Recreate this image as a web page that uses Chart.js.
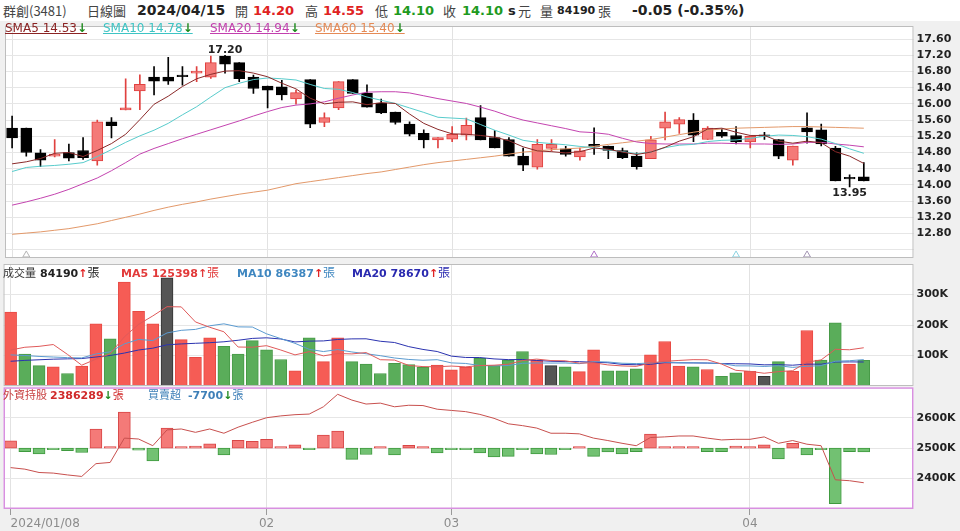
<!DOCTYPE html>
<html>
<head>
<meta charset="utf-8">
<script src="https://cdn.jsdelivr.net/npm/chart.js@4.4.1/dist/chart.umd.min.js"></script>
<style>
  body { margin: 0; width: 960px; height: 531px; overflow: hidden; position: relative; background: #f0f0f0; font-family: 'DejaVu Sans', Verdana, sans-serif; }
  #head { position: absolute; left: 0; top: 0; width: 960px; height: 21px; background: #fff; }
  #head span, .lg span { position: absolute; white-space: nowrap; }
  .cjk { font-family: 'Noto Sans CJK TC', sans-serif; }
  .b { font-weight: bold; }
  canvas { position: absolute; left: 0; }
  .lg { position: absolute; left: 0; width: 900px; height: 14px; font-size: 11px; line-height: 14px; }
  .sma { font-size: 12px; text-decoration: underline; }
</style>
</head>
<body>
<div id="head" style="font-size:13px;line-height:21px;color:#444">
  <span class="cjk" style="left:3px">群創(3481)</span>
  <span class="cjk" style="left:87px">日線圖</span>
  <span class="b" style="left:137px;color:#222;font-size:14px">2024/04/15</span>
  <span class="cjk" style="left:235px">開</span>
  <span class="b" style="left:253px;color:#e02222">14.20</span>
  <span class="cjk" style="left:305px">高</span>
  <span class="b" style="left:323px;color:#e02222">14.55</span>
  <span class="cjk" style="left:375px">低</span>
  <span class="b" style="left:393px;color:#1e9a1e">14.10</span>
  <span class="cjk" style="left:443px">收</span>
  <span class="b" style="left:462px;color:#1e9a1e">14.10</span>
  <span class="b" style="left:508px;color:#222">s</span>
  <span class="cjk" style="left:518px">元</span>
  <span class="cjk" style="left:540px">量</span>
  <span class="b" style="left:557px;color:#222;font-size:11px">84190</span>
  <span class="cjk" style="left:598px">張</span>
  <span class="b" style="left:632px;color:#222;font-size:14px">-0.05 (-0.35%)</span>
</div>

<canvas id="price" width="960" height="242" style="top:21px"></canvas>
<canvas id="vol" width="960" height="123" style="top:263px"></canvas>
<canvas id="fore" width="960" height="145" style="top:386px"></canvas>

<div class="lg" style="top:21px">
  <span class="sma" style="left:5px;color:#8b2323">SMA5 14.53<b style="color:#1e8a1e">↓</b></span>
  <span class="sma" style="left:103px;color:#3ec4c4">SMA10 14.78<b style="color:#1e8a1e">↓</b></span>
  <span class="sma" style="left:210px;color:#c23fae">SMA20 14.94<b style="color:#1e8a1e">↓</b></span>
  <span class="sma" style="left:315px;color:#e58a55">SMA60 15.40<b style="color:#1e8a1e">↓</b></span>
</div>
<div class="lg" style="top:265px">
  <span class="cjk" style="left:3px;color:#333">成交量</span>
  <span class="b" style="left:40px;color:#222">84190<span style="position:static;color:#e02222">↑</span><span class="cjk" style="position:static;font-weight:normal;font-size:12px">張</span></span>
  <span class="b" style="left:121px;color:#e23a3a">MA5 125398<span style="position:static">↑</span><span class="cjk" style="position:static;font-weight:normal;font-size:12px">張</span></span>
  <span class="b" style="left:237px;color:#3f87c0">MA10 86387<span style="position:static;color:#e02222">↑</span><span class="cjk" style="position:static;font-weight:normal;font-size:12px">張</span></span>
  <span class="b" style="left:352px;color:#2a2ab0">MA20 78670<span style="position:static;color:#e02222">↑</span><span class="cjk" style="position:static;font-weight:normal;font-size:12px">張</span></span>
</div>
<div class="lg" style="top:387px">
  <span class="cjk" style="left:3px;color:#c84040">外資持股</span>
  <span class="b" style="left:50px;color:#d02a2a">2386289<span style="position:static;color:#1e8a1e">↓</span><span class="cjk" style="position:static;font-weight:normal">張</span></span>
  <span class="cjk" style="left:148px;color:#3f80b8">買賣超</span>
  <span class="b" style="left:188px;color:#3f80b8">-7700<span style="position:static;color:#1e8a1e">↓</span><span class="cjk" style="position:static;font-weight:normal">張</span></span>
</div>

<script>
// 交易日 2024/01/08 ~ 2024/04/15
const dates = [
  '01/08','01/09','01/10','01/11','01/12','01/15','01/16','01/17','01/18','01/19',
  '01/22','01/23','01/24','01/25','01/26','01/29','01/30','01/31','02/01','02/02',
  '02/05','02/15','02/16','02/19','02/20','02/21','02/22','02/23','02/26','02/27',
  '02/29','03/01','03/04','03/05','03/06','03/07','03/08','03/11','03/12','03/13',
  '03/14','03/15','03/18','03/19','03/20','03/21','03/22','03/25','03/26','03/27',
  '03/28','03/29','04/01','04/02','04/03','04/08','04/09','04/10','04/11','04/12',
  '04/15'
];

// K線 (讀圖估計)
const open = [
  15.40,15.40,14.79,14.71,14.80,14.85,14.59,15.56,15.85,16.32,
  16.66,16.66,16.71,16.76,16.66,17.18,17.02,16.66,16.44,16.42,
  16.12,16.60,15.54,15.90,16.60,16.26,16.02,15.80,15.50,15.27,
  15.11,15.13,15.23,15.66,15.17,15.12,14.71,14.44,14.90,14.89,
  14.69,15.00,14.96,14.85,14.71,14.65,15.40,15.50,15.60,15.12,
  15.30,15.22,15.06,15.21,15.12,14.61,15.41,15.36,14.91,14.15,14.20
];
const high = [
  15.70,15.40,14.87,15.12,15.01,15.17,15.60,15.66,16.62,16.72,
  16.92,17.15,16.92,16.92,17.18,17.20,17.02,16.71,16.44,16.58,
  16.34,16.60,15.78,16.55,16.60,16.47,16.12,15.80,15.56,15.36,
  15.17,15.44,15.65,15.96,15.34,15.17,14.91,15.12,15.12,14.95,
  14.91,15.41,14.96,14.91,14.79,15.20,15.80,15.66,15.76,15.44,
  15.38,15.44,15.22,15.30,15.12,14.96,15.78,15.50,14.95,14.25,14.55
];
const low = [
  14.91,14.71,14.45,14.69,14.59,14.63,14.49,15.16,15.85,15.86,
  16.22,16.48,16.46,16.55,16.63,16.76,16.55,16.26,15.90,16.10,
  15.99,15.41,15.44,15.86,16.26,15.92,15.76,15.50,15.21,14.91,
  14.91,15.07,15.11,15.11,14.91,14.71,14.35,14.39,14.83,14.71,
  14.61,14.75,14.65,14.65,14.39,14.65,15.11,15.27,15.07,15.12,
  15.17,15.01,14.91,15.12,14.65,14.49,15.03,14.96,14.10,13.95,14.10
];
const close = [
  15.16,14.80,14.61,14.76,14.66,14.67,15.56,15.46,15.90,16.48,
  16.56,16.56,16.67,16.81,17.02,16.98,16.62,16.38,16.34,16.22,
  16.28,15.50,15.66,16.55,16.26,15.92,15.78,15.54,15.25,15.11,
  15.17,15.25,15.47,15.11,14.91,14.71,14.49,15.00,15.00,14.75,
  14.84,14.95,14.85,14.67,14.45,15.11,15.56,15.61,15.23,15.40,
  15.20,15.06,15.20,15.20,14.71,14.96,15.31,15.01,14.10,14.15,14.10
];

const sma5 = [
  14.52,14.57,14.65,14.78,14.80,14.70,14.85,15.02,15.25,15.61,
  15.99,16.19,16.43,16.62,16.73,16.81,16.82,16.76,16.67,16.51,
  16.37,16.14,16.00,16.04,16.05,15.98,16.03,16.01,15.75,15.52,
  15.37,15.26,15.25,15.22,15.18,15.09,14.94,14.84,14.82,14.79,
  14.82,14.91,14.88,14.81,14.75,14.81,14.93,15.08,15.19,15.38,
  15.40,15.30,15.22,15.22,15.08,15.03,15.08,15.04,14.82,14.71,14.53
];
const sma10 = [
  14.33,14.43,14.46,14.48,14.51,14.55,14.70,14.87,15.05,15.21,
  15.35,15.52,15.73,15.93,16.17,16.40,16.51,16.60,16.64,16.62,
  16.59,16.48,16.38,16.36,16.28,16.17,16.09,16.01,15.90,15.79,
  15.67,15.65,15.63,15.49,15.35,15.23,15.10,15.05,15.02,14.99,
  14.95,14.92,14.86,14.82,14.77,14.81,14.92,14.98,15.00,15.07,
  15.10,15.11,15.15,15.20,15.23,15.22,15.19,15.13,15.02,14.89,14.78
];
const sma20 = [
  13.50,13.58,13.67,13.77,13.89,14.03,14.17,14.35,14.55,14.76,
  14.90,15.02,15.14,15.25,15.36,15.47,15.58,15.70,15.81,15.91,
  15.97,16.00,16.05,16.14,16.22,16.29,16.30,16.30,16.27,16.20,
  16.13,16.07,16.01,15.92,15.82,15.70,15.60,15.53,15.46,15.39,
  15.31,15.29,15.25,15.15,15.06,15.02,15.01,15.01,15.01,15.03,
  15.03,15.02,15.01,15.01,15.00,15.01,15.05,15.05,15.01,14.98,14.94
];
const sma60 = [
  12.78,12.81,12.84,12.88,12.92,12.98,13.04,13.12,13.20,13.28,
  13.37,13.45,13.52,13.58,13.65,13.71,13.77,13.82,13.87,13.95,
  14.03,14.08,14.13,14.18,14.23,14.28,14.32,14.38,14.44,14.50,
  14.55,14.59,14.63,14.67,14.71,14.76,14.81,14.84,14.87,14.89,
  14.91,14.95,15.00,15.04,15.08,15.12,15.18,15.24,15.30,15.35,
  15.38,15.40,15.41,15.42,15.43,15.44,15.44,15.43,15.42,15.41,15.40
];

// 成交量 (張)
const volume = [
  242000,105000,67000,63000,41000,65000,204000,155000,341000,245000,
  204000,355000,152000,94000,158000,130000,105000,149000,119000,87000,
  50000,158000,80000,158000,80000,72000,41000,74000,70000,61000,
  69000,53000,61000,91000,67000,85000,113000,85000,67000,63000,
  47000,119000,50000,50000,56000,102000,146000,65000,63000,54000,
  32000,43000,48000,32000,80000,48000,182000,85000,207000,72000,84190
];
const volMa5 = [
  118000,127000,130000,136000,103600,68200,88000,105600,161200,202000,
  229800,260000,259400,210000,192600,177800,127800,127200,132200,118000,
  102000,112600,98800,106600,105200,109600,86200,85000,67400,63600,
  63000,65400,62800,67000,68200,71400,83400,88200,83400,82600,
  75000,76200,69200,65800,64400,75400,80800,83800,86400,86000,
  72000,51400,48000,41800,47000,50200,78000,85400,120400,118800,125398
];
const volMa10 = [
  102000,100000,97000,95000,93000,92000,105000,112000,138000,152800,
  149000,174000,182500,185600,197300,203800,193900,193300,171100,155300,
  139900,120200,113000,119400,111600,105800,99400,91900,87000,84400,
  86300,75800,73900,67200,65900,67200,74400,75500,75200,75400,
  73200,79800,78700,74600,73500,75200,78500,76500,76100,75200,
  73700,66100,65900,64100,66500,61100,64700,66700,81100,82900,86387
];
const volMa20 = [
  81000,84000,86000,88000,89000,90000,95000,100000,108000,118000,
  124000,135000,138000,140000,142000,145000,150000,156000,158000,154100,
  144500,147100,147800,152500,154500,154800,146700,142600,129100,119900,
  113100,98000,93500,93300,88800,86500,86900,83700,81100,79900,
  79800,77800,76300,70900,69700,71200,76500,76000,75700,75300,
  73500,73000,72300,69400,70000,68200,71600,71600,78600,79000,78670
];

// 外資持股 / 買賣超 (千張)
const foreignHold = [
  2436,2431,2420,2418,2412,2407,2449,2453,2533,2530,
  2508,2560,2563,2552,2563,2549,2569,2585,2600,2606,
  2610,2612,2636,2677,2658,2645,2648,2636,2641,2640,
  2628,2624,2620,2611,2598,2580,2574,2566,2549,2549,
  2547,2533,2525,2516,2508,2535,2537,2540,2540,2533,
  2527,2529,2529,2537,2516,2525,2513,2508,2396,2393,2386.289
];
const foreignNet = [
  15,-7,-12,-2,-5,-9,39,2,74,-4,
  -26,41,3,4,9,-14,16,14,18,2,
  7,-2,27,35,-23,-13,2,-14,6,2,
  -10,-2,-3,-10,-18,-17,-3,-12,-13,-1,
  3,-17,-8,-12,-7,29,2,2,2,-7,
  -7,4,2,7,-22,10,-14,-1,-114,-7,-7.7
];

const priceTicks = [12.4,12.8,13.2,13.6,14.0,14.4,14.8,15.2,15.6,16.0,16.4,16.8,17.2,17.6];
const volTicks = [100000,200000,300000];
const holdTicks = [2400,2500,2600];
const monthTicks = {0: '2024/01/08', 18: '02', 31: '03', 52: '04'};
const markerIdx = [1, 41, 51, 56];
const markerColor = ['#b4b4b4', '#b070c8', '#8ed4e2', '#a496b4'];
const markerPrice = 12.27;

const slots = dates.concat([' ', '  ', '   ']);  // 右側留白

Chart.defaults.font.family = "'DejaVu Sans', Verdana, sans-serif";
Chart.defaults.animation = false;
Chart.defaults.responsive = false;
Chart.defaults.devicePixelRatio = 1;
Chart.defaults.plugins.legend.display = false;
Chart.defaults.plugins.tooltip.enabled = false;

// 白底 + 外框
const panel = {
  id: 'panel',
  beforeDraw(chart, args, opts) {
    const { ctx, chartArea: a } = chart;
    ctx.save();
    ctx.fillStyle = '#fff';
    ctx.fillRect(a.left, a.top, a.right - a.left, a.bottom - a.top);
    ctx.restore();
  },
  afterDraw(chart, args, opts) {
    const { ctx, chartArea: a } = chart;
    const w = opts.width || 1;
    ctx.save();
    ctx.strokeStyle = opts.color || '#bdbdbd';
    ctx.lineWidth = w;
    ctx.strokeRect(a.left + w / 2, a.top + w / 2, a.right - a.left - w, a.bottom - a.top - w);
    ctx.restore();
  }
};

// 最高/最低價標示
const hiLo = {
  id: 'hiLo',
  afterDatasetsDraw(chart) {
    const { ctx, scales: { x, y } } = chart;
    const hi = high.indexOf(Math.max(...high));
    const lo = low.indexOf(Math.min(...low));
    ctx.save();
    ctx.font = "bold 11px 'DejaVu Sans'";
    ctx.fillStyle = '#222';
    ctx.textAlign = 'center';
    ctx.textBaseline = 'bottom';
    ctx.fillText(high[hi].toFixed(2), x.getPixelForValue(hi), y.getPixelForValue(high[hi]));
    ctx.textBaseline = 'top';
    ctx.fillText(low[lo].toFixed(2), x.getPixelForValue(lo), y.getPixelForValue(low[lo]) + 1);
    ctx.restore();
  }
};

function xAxis(showLabels) {
  return {
    type: 'category',
    offset: true,
    grid: {
      offset: false,
      color: c => monthTicks[c.index] !== undefined ? '#e2e2e2' : 'rgba(0,0,0,0)',
      tickColor: c => monthTicks[c.index] !== undefined ? '#9a9a9a' : 'rgba(0,0,0,0)',
      drawTicks: showLabels,
      tickLength: 6
    },
    border: { display: false },
    ticks: {
      display: showLabels, autoSkip: false, maxRotation: 0, minRotation: 0,
      align: 'inner', padding: 2, color: '#8c8c8c', font: { size: 12 },
      callback: (v, i) => monthTicks[i] || ''
    },
    afterFit: s => {
      s.height = showLabels ? 22 : 0;
      s.paddingLeft = 0;
      s.paddingRight = 0;
    }
  };
}

function yAxis(min, max, ticks, fmt) {
  return {
    position: 'right', min, max,
    afterBuildTicks: s => { s.ticks = ticks.map(v => ({ value: v })); },
    afterFit: s => {
      s.width = 46.5;
      s.paddingTop = 0;
      s.paddingBottom = 0;
    },
    grid: { color: '#e6e6e6', drawTicks: false },
    border: { display: false },
    ticks: { padding: 3, color: '#222', font: { size: 11, weight: 'bold' }, callback: fmt }
  };
}

const isUp = i => close[i] > open[i];
const candleFill = open.map((o, i) => isUp(i) ? '#f47a78' : '#000');
const candleLine = open.map((o, i) => isUp(i) ? '#e0413f' : '#000');

// 價格
new Chart(document.getElementById('price'), {
  type: 'bar',
  data: {
    labels: slots,
    datasets: [
      { type: 'line', data: sma5, borderColor: '#8b2a2a', borderWidth: 1, pointRadius: 0, order: 0 },
      { type: 'line', data: sma10, borderColor: '#58cccc', borderWidth: 1, pointRadius: 0, order: 0 },
      { type: 'line', data: sma20, borderColor: '#c444b0', borderWidth: 1, pointRadius: 0, order: 0 },
      { type: 'line', data: sma60, borderColor: '#e3996a', borderWidth: 1, pointRadius: 0, order: 0 },
      {
        type: 'line', showLine: false, clip: false, order: 0,
        data: slots.map((s, i) => markerIdx.includes(i) ? markerPrice : null),
        pointStyle: 'triangle', pointRadius: 4, pointBorderWidth: 1,
        pointBackgroundColor: 'rgba(0,0,0,0)',
        pointBorderColor: c => markerColor[markerIdx.indexOf(c.dataIndex)] || '#aaa'
      },
      {
        data: open.map((o, i) => [o, close[i]]), grouped: false, order: 1,
        backgroundColor: candleFill, borderColor: candleLine, borderWidth: 1,
        borderSkipped: false, barThickness: 11, minBarLength: 1.5
      },
      {
        data: low.map((l, i) => [l, high[i]]), grouped: false, order: 2,
        backgroundColor: candleLine, barThickness: 1
      }
    ]
  },
  options: {
    layout: { padding: { left: 3.5, top: 1, bottom: 1, right: 0 } },
    scales: {
      x: xAxis(false),
      y: yAxis(12.195, 17.923, priceTicks, v => v < 12.6 ? '' : v.toFixed(2))
    },
    plugins: { panel: { color: '#bdbdbd' } }
  },
  plugins: [panel, hiLo]
});

// 成交量
const volFill = volume.map((v, i) =>
  i === 0 || close[i] > close[i - 1] ? '#f65c55' : close[i] < close[i - 1] ? '#5aad5a' : '#555');
const volLine = volume.map((v, i) =>
  i === 0 || close[i] > close[i - 1] ? '#e84a44' : close[i] < close[i - 1] ? '#479a47' : '#333');

new Chart(document.getElementById('vol'), {
  type: 'bar',
  data: {
    labels: slots,
    datasets: [
      { type: 'line', data: volMa5, borderColor: '#e05a5a', borderWidth: 1, pointRadius: 0, order: 0 },
      { type: 'line', data: volMa10, borderColor: '#5b9bd0', borderWidth: 1, pointRadius: 0, order: 0 },
      { type: 'line', data: volMa20, borderColor: '#2b33b0', borderWidth: 1, pointRadius: 0, order: 0 },
      { data: volume, backgroundColor: volFill, borderColor: volLine, borderWidth: 1, borderSkipped: 'bottom', barThickness: 12, order: 1 }
    ]
  },
  options: {
    layout: { padding: { left: 3.5, top: 1, bottom: 0, right: 0 } },
    scales: {
      x: xAxis(false),
      y: yAxis(0, 400000, volTicks, v => (v / 1000) + 'K')
    },
    plugins: { panel: { color: '#bdbdbd' } }
  },
  plugins: [panel]
});

// 外資
new Chart(document.getElementById('fore'), {
  type: 'bar',
  data: {
    labels: slots,
    datasets: [
      { type: 'line', data: foreignHold, yAxisID: 'y', borderColor: '#c8504e', borderWidth: 1, pointRadius: 0, order: 0 },
      {
        data: foreignNet, yAxisID: 'yb', order: 1, barThickness: 12, minBarLength: 1.5,
        backgroundColor: foreignNet.map(v => v > 0 ? '#f47a78' : '#72c172'),
        borderColor: foreignNet.map(v => v > 0 ? '#d84646' : '#3f9a3f'),
        borderWidth: 1, borderSkipped: false
      }
    ]
  },
  options: {
    layout: { padding: { left: 3.5, top: 1.3, bottom: 0, right: 0 } },
    scales: {
      x: xAxis(true),
      y: yAxis(2300, 2700, holdTicks, v => v + 'K'),
      yb: { display: false, min: -125, max: 125 }
    },
    plugins: { panel: { color: '#d890e0', width: 1.5 } }
  },
  plugins: [panel]
});
</script>
</body>
</html>
